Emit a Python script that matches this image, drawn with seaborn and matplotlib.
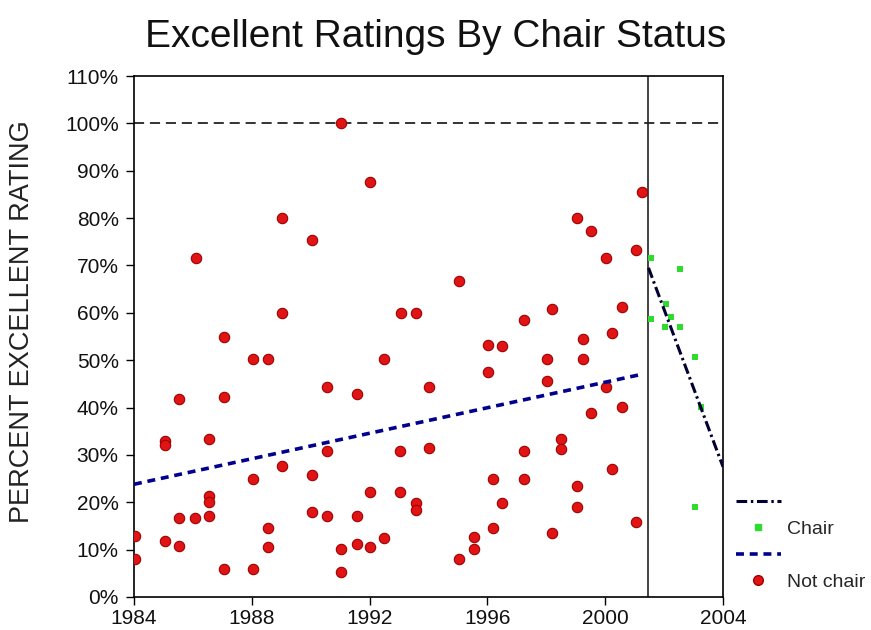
import matplotlib
matplotlib.use("Agg")
import matplotlib.pyplot as plt
from matplotlib.lines import Line2D
import seaborn as sns
import pandas as pd

# ---------------- data ----------------
not_chair_years = [
    1984.03, 1984.03, 1985.05, 1985.05, 1985.05, 1985.53, 1985.53, 1985.53,
    1986.07, 1986.10, 1986.54, 1986.54, 1986.54, 1986.54, 1987.05, 1987.05,
    1987.05, 1988.03, 1988.54, 1988.03, 1988.54, 1988.54, 1988.03, 1989.02,
    1989.02, 1989.02, 1990.03, 1990.03, 1990.03, 1990.54, 1990.54, 1990.54,
    1991.02, 1991.02, 1991.02, 1991.56, 1991.56, 1991.56, 1992.03, 1992.03,
    1992.03, 1992.50, 1992.50, 1993.05, 1993.56, 1993.02, 1993.02, 1993.56,
    1993.56, 1994.03, 1994.03, 1995.02, 1995.02, 1995.56, 1995.56, 1996.03,
    1996.03, 1996.20, 1996.20, 1996.50, 1996.50, 1997.25, 1997.25, 1997.25,
    1998.20, 1998.03, 1998.03, 1998.20, 1998.50, 1998.50, 1999.05, 1999.05,
    1999.05, 1999.25, 1999.25, 1999.53, 1999.53, 2000.03, 2000.03, 2000.24,
    2000.24, 2000.58, 2000.58, 2001.05, 2001.05, 2001.25,
]
not_chair_pct = [
    12.9, 8.0, 33.0, 32.1, 11.8, 41.9, 16.7, 10.8,
    16.7, 71.5, 33.4, 21.4, 20.1, 17.1, 55.0, 42.3,
    5.9, 50.3, 50.3, 24.9, 14.6, 10.6, 5.9, 27.7,
    80.1, 60.0, 75.3, 25.8, 18.0, 44.4, 30.9, 17.1,
    100.0, 10.1, 5.3, 42.9, 17.1, 11.2, 87.7, 22.2,
    10.6, 50.3, 12.5, 60.0, 60.0, 30.9, 22.2, 19.9,
    18.4, 44.4, 31.5, 66.8, 8.0, 12.7, 10.1, 53.3,
    47.6, 24.9, 14.6, 52.9, 19.9, 58.4, 30.9, 24.9,
    60.9, 50.3, 45.7, 13.5, 33.4, 31.3, 80.1, 23.5,
    19.0, 54.5, 50.3, 77.2, 38.9, 71.5, 44.4, 55.8,
    27.1, 61.3, 40.2, 73.2, 15.9, 85.6,
]
chair_years = [2001.55, 2002.53, 2002.06, 2002.23, 2001.55, 2002.02, 2002.53,
               2003.04, 2003.24, 2003.04]
chair_pct = [71.6, 69.3, 61.9, 59.1, 58.7, 57.1, 57.1, 50.6, 40.2, 19.0]

# trend lines (end points)
not_chair_trend_years = [1984.0, 2001.3]
not_chair_trend_pct = [23.8, 47.1]
chair_trend_years = [2001.47, 2004.0]
chair_trend_pct = [69.5, 27.5]

chair_start_year = 2001.47
reference_pct = 100

x_ticks = [1984, 1988, 1992, 1996, 2000, 2004]
y_ticks = [0, 10, 20, 30, 40, 50, 60, 70, 80, 90, 100, 110]
y_tick_labels = ["0%", "10%", "20%", "30%", "40%", "50%", "60%", "70%",
                 "80%", "90%", "100%", "110%"]

title = "Excellent Ratings By Chair Status"
y_label = "PERCENT EXCELLENT RATING"

# ---------------- styling ----------------
sns.set_style("ticks")
plt.rcParams["font.family"] = ["Liberation Sans", "DejaVu Sans"]

RED = "#E01414"
RED_EDGE = "#A00000"
GREEN = "#2EDB2E"
NAVY = "#00008C"
DARK = "#000033"

fig = plt.figure(figsize=(8.71, 6.30), dpi=100)
ax = fig.add_axes([134 / 871, 33 / 630, 589 / 871, 521 / 630])

nc = pd.DataFrame({"year": not_chair_years, "pct": not_chair_pct})
ch = pd.DataFrame({"year": chair_years, "pct": chair_pct})

# reference lines
ax.axhline(reference_pct, color="#333333", lw=1.4,
           linestyle=(0, (5.2, 3.0)), zorder=1)
ax.axvline(chair_start_year, color="#222222", lw=1.2, zorder=1)

sns.scatterplot(data=nc, x="year", y="pct", ax=ax, marker="o", s=56,
                color=RED, edgecolor=RED_EDGE, linewidth=0.8, zorder=3,
                legend=False)
sns.scatterplot(data=ch, x="year", y="pct", ax=ax, marker="s", s=24,
                color=GREEN, edgecolor=GREEN, linewidth=0, zorder=3,
                legend=False)

sns.lineplot(x=not_chair_trend_years, y=not_chair_trend_pct, ax=ax,
             color=NAVY, lw=2.6, linestyle=(0, (2.2, 1.6)), zorder=4)
sns.lineplot(x=chair_trend_years, y=chair_trend_pct, ax=ax,
             color=DARK, lw=2.2, linestyle=(0, (3.5, 1.2, 0.8, 1.2)), zorder=4)

ax.set_xlim(1984, 2004)
ax.set_ylim(0, 110)
ax.set_xticks(x_ticks)
ax.set_xticklabels([str(t) for t in x_ticks])
ax.set_yticks(y_ticks)
ax.set_yticklabels(y_tick_labels)
ax.tick_params(axis="both", direction="out", length=6, width=1.0,
               color="black", labelsize=15, labelcolor="#111111", pad=3)
ax.tick_params(axis="y", pad=5)
for sp in ax.spines.values():
    sp.set_visible(True)
    sp.set_color("black")
    sp.set_linewidth(1.2)
ax.set_xlabel("")
ax.set_ylabel("")

fig.text(0.5, 1 - 47 / 630, title, ha="center", va="baseline",
         fontsize=28, color="#111111")
fig.text(22 / 871, 1 - 322 / 630, y_label, rotation=90, ha="center",
         va="center", fontsize=19.5, color="#222222")

handles = [
    Line2D([], [], color=DARK, lw=2.2, linestyle=(0, (3.5, 1.2, 0.8, 1.2))),
    Line2D([], [], color=GREEN, marker="s", markersize=5, lw=0),
    Line2D([], [], color=NAVY, lw=2.6, linestyle=(0, (2.2, 1.6))),
    Line2D([], [], color=RED, marker="o", markersize=7,
           markeredgecolor=RED_EDGE, lw=0),
]
labels = [" ", "Chair", " ", "Not chair"]
fig.legend(handles, labels, loc="upper left",
           bbox_to_anchor=(736 / 871, 1 - 494 / 630), frameon=False,
           fontsize=14, handlelength=2.3, handletextpad=0.3,
           labelspacing=0.45, borderpad=0, borderaxespad=0)

fig.savefig("out.png", dpi=100)
